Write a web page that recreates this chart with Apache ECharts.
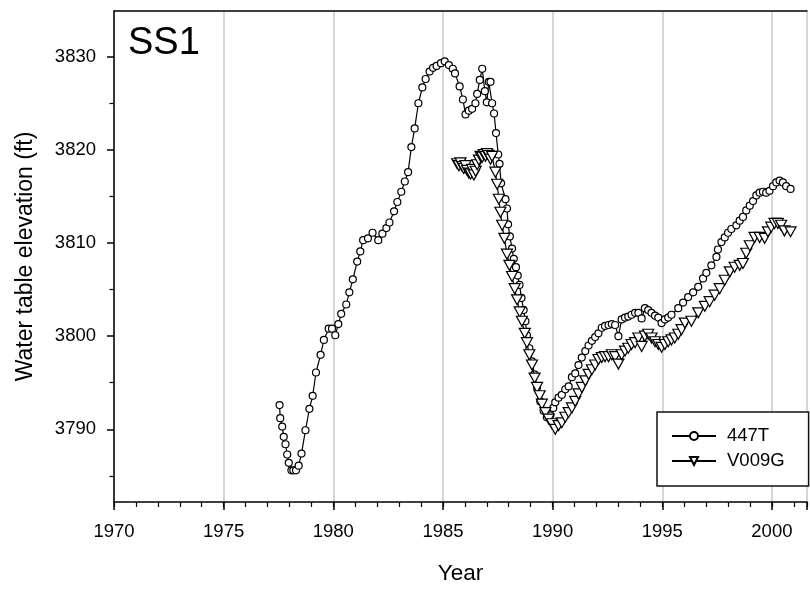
<!DOCTYPE html>
<html>
<head>
<meta charset="utf-8">
<script src="https://cdn.jsdelivr.net/npm/echarts@6/dist/echarts.min.js"></script>
<style>
html,body{margin:0;padding:0;background:#fff;}
#chart{width:810px;height:590px;}
</style>
</head>
<body>
<div id="chart"></div>
<script>
// ---- Data ----
const yearsA = [1977.55,1977.58,1977.67,1977.74,1977.82,1977.90,1977.97,1978.09,1978.18,1978.30,1978.42,1978.55,1978.73,1978.91,1979.06,1979.21,1979.42,1979.57,1979.79,1979.94,1980.09,1980.23,1980.36,1980.59,1980.73,1980.89,1981.09,1981.23,1981.36,1981.58,1981.79,1982.05,1982.24,1982.42,1982.56,1982.77,1982.92,1983.10,1983.26,1983.41,1983.56,1983.71,1983.88,1984.06,1984.21,1984.39,1984.55,1984.71,1984.91,1985.08,1985.27,1985.45,1985.55,1985.76,1985.91,1986.03,1986.18,1986.33,1986.48,1986.56,1986.68,1986.79,1986.91,1987.00,1987.09,1987.17,1987.24,1987.33,1987.42,1987.52,1987.58,1987.65,1987.85,1987.92,1987.97,1988.05,1988.15,1988.23,1988.33,1988.41,1988.49,1988.58,1988.68,1988.76,1988.83,1988.94,1989.06,1989.17,1989.29,1989.44,1989.59,1989.74,1989.90,1990.03,1990.12,1990.27,1990.42,1990.58,1990.73,1990.88,1991.03,1991.18,1991.33,1991.49,1991.64,1991.79,1991.94,1992.09,1992.24,1992.39,1992.55,1992.70,1992.85,1993.00,1993.15,1993.30,1993.45,1993.60,1993.76,1993.91,1994.06,1994.21,1994.36,1994.51,1994.67,1994.82,1994.97,1995.12,1995.27,1995.42,1995.73,1995.95,1996.18,1996.41,1996.64,1996.86,1997.01,1997.24,1997.47,1997.54,1997.70,1997.85,1998.00,1998.15,1998.38,1998.53,1998.68,1998.83,1998.99,1999.14,1999.29,1999.44,1999.59,1999.74,1999.89,2000.05,2000.20,2000.35,2000.50,2000.65,2000.85];
const levelsA = [3792.6,3791.2,3790.3,3789.2,3788.4,3787.3,3786.4,3785.6,3785.6,3785.6,3786.1,3787.4,3789.9,3792.2,3793.6,3796.1,3798.0,3799.6,3800.8,3800.8,3800.1,3801.3,3802.4,3803.4,3804.7,3806.1,3808.0,3809.1,3810.3,3810.5,3811.1,3810.3,3811.0,3811.6,3812.2,3813.4,3814.4,3815.5,3816.6,3817.6,3820.3,3822.3,3825.0,3826.7,3827.6,3828.4,3828.8,3829.0,3829.3,3829.5,3829.1,3828.7,3828.2,3826.8,3825.4,3823.8,3824.2,3824.4,3825.0,3826.0,3827.5,3828.7,3826.3,3825.1,3827.3,3827.3,3825.0,3823.9,3821.8,3819.5,3818.5,3816.4,3814.7,3813.7,3812.0,3810.7,3809.4,3808.3,3807.4,3806.5,3805.5,3804.1,3802.8,3801.6,3800.1,3798.7,3797.3,3795.9,3794.5,3793.0,3792.0,3791.3,3791.5,3792.3,3792.9,3793.4,3793.7,3794.3,3794.6,3795.6,3796.0,3796.9,3797.7,3798.4,3799.0,3799.5,3799.9,3800.3,3800.9,3801.1,3801.2,3801.3,3801.2,3800.0,3801.8,3802.0,3802.1,3802.3,3802.5,3802.5,3801.9,3803.0,3802.8,3802.5,3802.2,3802.0,3801.4,3801.8,3802.0,3802.3,3803.0,3803.6,3804.2,3804.7,3805.3,3806.2,3806.8,3807.6,3808.5,3809.3,3810.1,3810.6,3811.1,3811.5,3811.9,3812.4,3812.8,3813.5,3814.0,3814.5,3815.1,3815.4,3815.5,3815.4,3815.6,3816.1,3816.5,3816.7,3816.5,3816.1,3815.8];

const yearsB = [1985.65,1985.73,1985.80,1985.88,1985.95,1986.03,1986.10,1986.18,1986.26,1986.33,1986.41,1986.49,1986.56,1986.64,1986.71,1986.79,1986.86,1986.94,1987.01,1987.09,1987.17,1987.24,1987.39,1987.47,1987.55,1987.62,1987.70,1987.80,1987.92,1988.03,1988.15,1988.27,1988.38,1988.50,1988.60,1988.73,1988.83,1988.94,1989.06,1989.18,1989.29,1989.41,1989.51,1989.67,1989.82,1989.97,1990.12,1990.27,1990.42,1990.58,1990.73,1990.88,1991.03,1991.18,1991.33,1991.49,1991.64,1991.79,1991.94,1992.09,1992.24,1992.39,1992.55,1992.70,1992.85,1993.00,1993.15,1993.30,1993.45,1993.60,1993.76,1993.91,1994.06,1994.21,1994.36,1994.51,1994.67,1994.82,1994.97,1995.12,1995.27,1995.42,1995.57,1995.73,1995.88,1996.03,1996.33,1996.64,1996.94,1997.16,1997.39,1997.62,1997.85,1998.08,1998.30,1998.53,1998.68,1998.83,1998.99,1999.21,1999.44,1999.67,1999.82,1999.97,2000.12,2000.27,2000.42,2000.57,2000.85];
const levelsB = [3818.5,3818.3,3818.6,3818.2,3818.0,3818.3,3817.8,3817.5,3817.4,3817.9,3817.3,3817.7,3818.4,3818.9,3819.3,3819.2,3819.5,3819.3,3819.6,3819.4,3819.0,3819.3,3817.6,3816.3,3814.7,3813.3,3811.9,3810.5,3808.8,3807.6,3806.4,3805.1,3803.9,3802.6,3801.6,3800.3,3799.3,3798.0,3796.9,3795.5,3794.5,3793.6,3792.7,3791.8,3791.1,3790.6,3790.0,3790.4,3790.7,3791.3,3791.8,3792.3,3793.0,3793.8,3794.5,3795.2,3795.9,3796.4,3796.9,3797.5,3797.7,3797.8,3797.8,3798.0,3797.8,3797.0,3798.0,3798.4,3798.7,3799.1,3799.3,3799.8,3798.9,3800.0,3800.2,3799.8,3799.4,3799.1,3798.8,3799.1,3799.4,3799.6,3799.8,3800.2,3800.7,3801.4,3801.6,3802.5,3803.2,3803.7,3804.4,3805.1,3806.0,3806.9,3807.4,3807.6,3807.8,3808.9,3809.7,3810.6,3810.6,3810.5,3811.2,3811.7,3812.1,3812.1,3811.9,3811.3,3811.2];

const seriesNames = ['447T', 'V009G'];
const yMajorTicks = [3790, 3800, 3810, 3820, 3830];
const yMinorTicks = [3785, 3795, 3805, 3815, 3825];
const panelLabel = 'SS1';
const xTitle = 'Year';
const yTitle = 'Water table elevation (ft)';

// ---- Chart ----
const FONT = '"Liberation Sans", Arial, sans-serif';
const XMIN = 1970, XMAX = 2001.6, YMIN = 3782.2, YMAX = 3834.9;
const chart = echarts.init(document.getElementById('chart'), null, {renderer: 'canvas'});

const common = {
  type: 'line',
  xAxisIndex: 0,
  yAxisIndex: 0,
  showSymbol: true,
  showAllSymbol: true,
  lineStyle: {color: '#000', width: 1.2},
  itemStyle: {color: '#fff', borderColor: '#000', borderWidth: 1.2},
  emphasis: {disabled: true},
  animation: false,
  clip: false
};

chart.setOption({
  animation: false,
  backgroundColor: '#fff',
  textStyle: {fontFamily: FONT, color: '#000'},
  title: {
    text: panelLabel, left: 128, top: 25, padding: 0,
    textStyle: {fontFamily: FONT, fontSize: 38, fontWeight: 'normal', color: '#000'}
  },
  grid: {left: 114, top: 11, right: 0, bottom: 85, containLabel: false},
  legend: {
    orient: 'vertical', left: 657, top: 412,
    padding: [14, 24, 15, 14],
    itemGap: 5,
    itemWidth: 44, itemHeight: 10,
    borderColor: '#111', borderWidth: 1.5,
    backgroundColor: '#fff',
    textStyle: {fontFamily: FONT, fontSize: 18.5, color: '#000', lineHeight: 20, padding: [0, 0, 0, 6]},
    data: seriesNames
  },
  xAxis: [
    {
      type: 'value', position: 'bottom', min: XMIN, max: XMAX, interval: 5,
      name: xTitle, nameLocation: 'middle', nameGap: 60,
      nameTextStyle: {fontFamily: FONT, fontSize: 22.5, color: '#000'},
      axisLine: {show: true, onZero: false, lineStyle: {color: '#000', width: 1.5}},
      axisTick: {show: true, inside: false, length: 8, lineStyle: {color: '#000', width: 1.5}},
      axisLabel: {show: true, margin: 20, fontFamily: FONT, fontSize: 18.5, color: '#000',
        formatter: v => (Math.abs(v % 5) < 1e-6 ? String(Math.round(v)) : '')},
      splitLine: {show: true, lineStyle: {color: '#c8c8c8', width: 1.5}},
      minorTick: {show: false}
    },
    {
      type: 'value', position: 'bottom', offset: 0, min: XMIN, max: XMAX, interval: 1,
      axisLine: {show: false, onZero: false},
      axisTick: {show: true, length: 5, lineStyle: {color: '#000', width: 1.2}},
      axisLabel: {show: false},
      splitLine: {show: false}
    },
    {
      type: 'value', position: 'top', min: XMIN, max: XMAX,
      axisLine: {show: true, onZero: false, lineStyle: {color: '#000', width: 1.5}},
      axisTick: {show: false}, axisLabel: {show: false}, splitLine: {show: false}
    }
  ],
  yAxis: [
    {
      type: 'value', position: 'left', min: YMIN, max: YMAX,
      name: yTitle, nameLocation: 'middle', nameGap: 77,
      nameTextStyle: {fontFamily: FONT, fontSize: 23, color: '#000'},
      axisLine: {show: true, onZero: false, lineStyle: {color: '#000', width: 1.5}},
      axisTick: {show: true, length: 7, customValues: yMajorTicks, lineStyle: {color: '#000', width: 1.5}},
      axisLabel: {show: true, margin: 18, customValues: yMajorTicks, fontFamily: FONT, fontSize: 18.5, color: '#000',
        formatter: v => String(Math.round(v))},
      splitLine: {show: false}
    },
    {
      type: 'value', position: 'left', offset: 0, min: YMIN, max: YMAX,
      axisLine: {show: false, onZero: false},
      axisTick: {show: true, length: 4.5, customValues: yMinorTicks, lineStyle: {color: '#000', width: 1.2}},
      axisLabel: {show: false},
      splitLine: {show: false}
    }
  ],
  series: [
    Object.assign({}, common, {
      name: seriesNames[0], symbol: 'circle', symbolSize: 7, z: 2,
      data: yearsA.map((x, i) => [x, levelsA[i]])
    }),
    Object.assign({}, common, {
      name: seriesNames[1], symbol: 'triangle', symbolSize: [11, 10], symbolRotate: 180, z: 3,
      data: yearsB.map((x, i) => [x, levelsB[i]])
    })
  ]
});
</script>
</body>
</html>
